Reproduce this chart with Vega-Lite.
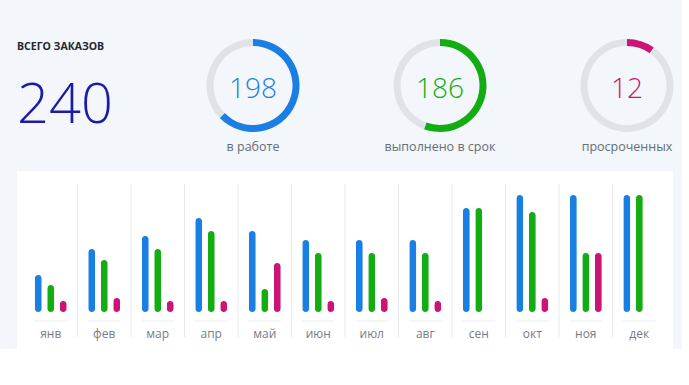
{
  "$schema": "https://vega.github.io/schema/vega-lite/v6.json",
  "background": "#f3f6fa",
  "padding": {"left": 17, "top": 0, "right": 0, "bottom": 0},
  "spacing": 0,
  "resolve": {"scale": {"color": "independent"}},
  "config": {"view": {"stroke": null}, "font": "Open Sans"},
  "datasets": {
    "months": [
      {"m": "янв"}, {"m": "фев"}, {"m": "мар"}, {"m": "апр"}, {"m": "май"}, {"m": "июн"},
      {"m": "июл"}, {"m": "авг"}, {"m": "сен"}, {"m": "окт"}, {"m": "ноя"}, {"m": "дек"}
    ],
    "bars": [
      {"m": "янв", "s": "в работе", "v": 37}, {"m": "янв", "s": "выполнено в срок", "v": 27}, {"m": "янв", "s": "просроченных", "v": 11},
      {"m": "фев", "s": "в работе", "v": 63}, {"m": "фев", "s": "выполнено в срок", "v": 52}, {"m": "фев", "s": "просроченных", "v": 14},
      {"m": "мар", "s": "в работе", "v": 76}, {"m": "мар", "s": "выполнено в срок", "v": 63}, {"m": "мар", "s": "просроченных", "v": 11},
      {"m": "апр", "s": "в работе", "v": 94}, {"m": "апр", "s": "выполнено в срок", "v": 81}, {"m": "апр", "s": "просроченных", "v": 11},
      {"m": "май", "s": "в работе", "v": 81}, {"m": "май", "s": "выполнено в срок", "v": 23}, {"m": "май", "s": "просроченных", "v": 49},
      {"m": "июн", "s": "в работе", "v": 72}, {"m": "июн", "s": "выполнено в срок", "v": 59}, {"m": "июн", "s": "просроченных", "v": 11},
      {"m": "июл", "s": "в работе", "v": 72}, {"m": "июл", "s": "выполнено в срок", "v": 59}, {"m": "июл", "s": "просроченных", "v": 14},
      {"m": "авг", "s": "в работе", "v": 72}, {"m": "авг", "s": "выполнено в срок", "v": 59}, {"m": "авг", "s": "просроченных", "v": 11},
      {"m": "сен", "s": "в работе", "v": 104}, {"m": "сен", "s": "выполнено в срок", "v": 104},
      {"m": "окт", "s": "в работе", "v": 117}, {"m": "окт", "s": "выполнено в срок", "v": 100}, {"m": "окт", "s": "просроченных", "v": 14},
      {"m": "ноя", "s": "в работе", "v": 117}, {"m": "ноя", "s": "выполнено в срок", "v": 59}, {"m": "ноя", "s": "просроченных", "v": 59},
      {"m": "дек", "s": "в работе", "v": 117}, {"m": "дек", "s": "выполнено в срок", "v": 117}
    ]
  },
  "vconcat": [
    {
      "hconcat": [
        {
          "width": 103.5,
          "height": 171,
          "data": {"values": [{"title": "ВСЕГО ЗАКАЗОВ", "total": 240}]},
          "layer": [
            {
              "mark": {"type": "text", "align": "left", "baseline": "middle", "fontSize": 10.5, "fontWeight": "bold", "color": "#222831"},
              "encoding": {"text": {"field": "title"}, "x": {"value": 0}, "y": {"value": 47}}
            },
            {
              "mark": {"type": "text", "align": "left", "baseline": "middle", "fontSize": 56, "fontWeight": 300, "color": "#1b1ba8"},
              "encoding": {"text": {"field": "total"}, "x": {"value": 0}, "y": {"value": 106}}
            }
          ]
        },
        {
          "width": 110,
          "height": 171,
          "data": {"values": [
            {"part": "done", "i": 1, "share": 0.627, "count": 198, "label": "в работе"},
            {"part": "rest", "i": 2, "share": 0.373}
          ]},
          "layer": [
            {
              "mark": {"type": "arc", "innerRadius": 39.5, "outerRadius": 46.5},
              "encoding": {
                "theta": {"field": "share", "type": "quantitative", "stack": true},
                "order": {"field": "i"},
                "color": {"field": "part", "type": "nominal", "scale": {"domain": ["done", "rest"], "range": ["#1a7fe3", "#dfe3e8"]}, "legend": null}
              }
            },
            {
              "transform": [{"filter": "datum.part === 'done'"}],
              "mark": {"type": "text", "fontSize": 28, "fontWeight": 300, "color": "#1a7fe3", "baseline": "middle", "dy": 4},
              "encoding": {"text": {"field": "count"}}
            },
            {
              "transform": [{"filter": "datum.part === 'done'"}],
              "mark": {"type": "text", "fontSize": 12.5, "color": "#676d75", "baseline": "middle", "dy": 61},
              "encoding": {"text": {"field": "label"}}
            }
          ]
        },
        {
          "width": 110,
          "height": 171,
          "data": {"values": [
            {"part": "done", "i": 1, "share": 0.556, "count": 186, "label": "выполнено в срок"},
            {"part": "rest", "i": 2, "share": 0.444}
          ]},
          "layer": [
            {
              "mark": {"type": "arc", "innerRadius": 39.5, "outerRadius": 46.5},
              "encoding": {
                "theta": {"field": "share", "type": "quantitative", "stack": true},
                "order": {"field": "i"},
                "color": {"field": "part", "type": "nominal", "scale": {"domain": ["done", "rest"], "range": ["#13ad13", "#dfe3e8"]}, "legend": null}
              }
            },
            {
              "transform": [{"filter": "datum.part === 'done'"}],
              "mark": {"type": "text", "fontSize": 28, "fontWeight": 300, "color": "#13ad13", "baseline": "middle", "dy": 4},
              "encoding": {"text": {"field": "count"}}
            },
            {
              "transform": [{"filter": "datum.part === 'done'"}],
              "mark": {"type": "text", "fontSize": 12.5, "color": "#676d75", "baseline": "middle", "dy": 61},
              "encoding": {"text": {"field": "label"}}
            }
          ]
        },
        {
          "width": 110,
          "height": 171,
          "data": {"values": [
            {"part": "done", "i": 1, "share": 0.098, "count": 12, "label": "просроченных"},
            {"part": "rest", "i": 2, "share": 0.902}
          ]},
          "layer": [
            {
              "mark": {"type": "arc", "innerRadius": 39.5, "outerRadius": 46.5},
              "encoding": {
                "theta": {"field": "share", "type": "quantitative", "stack": true},
                "order": {"field": "i"},
                "color": {"field": "part", "type": "nominal", "scale": {"domain": ["done", "rest"], "range": ["#cc1477", "#dfe3e8"]}, "legend": null}
              }
            },
            {
              "transform": [{"filter": "datum.part === 'done'"}],
              "mark": {"type": "text", "fontSize": 28, "fontWeight": 300, "color": "#cc1477", "baseline": "middle", "dy": 4},
              "encoding": {"text": {"field": "count"}}
            },
            {
              "transform": [{"filter": "datum.part === 'done'"}],
              "mark": {"type": "text", "fontSize": 12.5, "color": "#676d75", "baseline": "middle", "dy": 61},
              "encoding": {"text": {"field": "label"}}
            }
          ]
        }
      ],
      "spacing": 77,
      "bounds": "flush",
      "resolve": {"scale": {"color": "independent"}}
    },
    {
      "width": 656,
      "height": 178,
      "view": {"fill": "#ffffff", "stroke": null},
      "layer": [
        {
          "data": {"name": "months"},
          "transform": [{"filter": "datum.m !== 'янв'"}],
          "mark": {"type": "rule", "color": "#e6e9ed", "strokeWidth": 1},
          "encoding": {
            "x": {"field": "m", "type": "nominal", "bandPosition": 0, "axis": null,
                  "scale": {"type": "band", "domain": ["янв","фев","мар","апр","май","июн","июл","авг","сен","окт","ноя","дек"], "paddingInner": 0, "paddingOuter": 0.13}},
            "y": {"datum": -25, "type": "quantitative", "axis": null, "scale": {"domain": [-37, 141], "nice": false, "zero": false}},
            "y2": {"datum": 128}
          }
        },
        {
          "data": {"name": "months"},
          "mark": {"type": "tick", "color": "#e3e6ea", "thickness": 1, "size": 33},
          "encoding": {
            "x": {"field": "m", "type": "nominal"},
            "y": {"datum": -9, "type": "quantitative"}
          }
        },
        {
          "data": {"name": "months"},
          "mark": {"type": "text", "fontSize": 12, "color": "#767c85", "baseline": "middle"},
          "encoding": {
            "x": {"field": "m", "type": "nominal"},
            "y": {"datum": -22, "type": "quantitative"},
            "text": {"field": "m"}
          }
        },
        {
          "data": {"name": "bars"},
          "mark": {"type": "bar", "cornerRadius": 3.5},
          "encoding": {
            "x": {"field": "m", "type": "nominal"},
            "xOffset": {"field": "s", "type": "nominal", "scale": {"domain": ["в работе", "выполнено в срок", "просроченных"], "paddingInner": 0.44, "paddingOuter": 0.86}},
            "y": {"field": "v", "type": "quantitative"},
            "color": {"field": "s", "type": "nominal", "legend": null,
                      "scale": {"domain": ["в работе", "выполнено в срок", "просроченных"], "range": ["#1a7fe3", "#13ad13", "#cc1477"]}}
          }
        }
      ]
    }
  ]
}
